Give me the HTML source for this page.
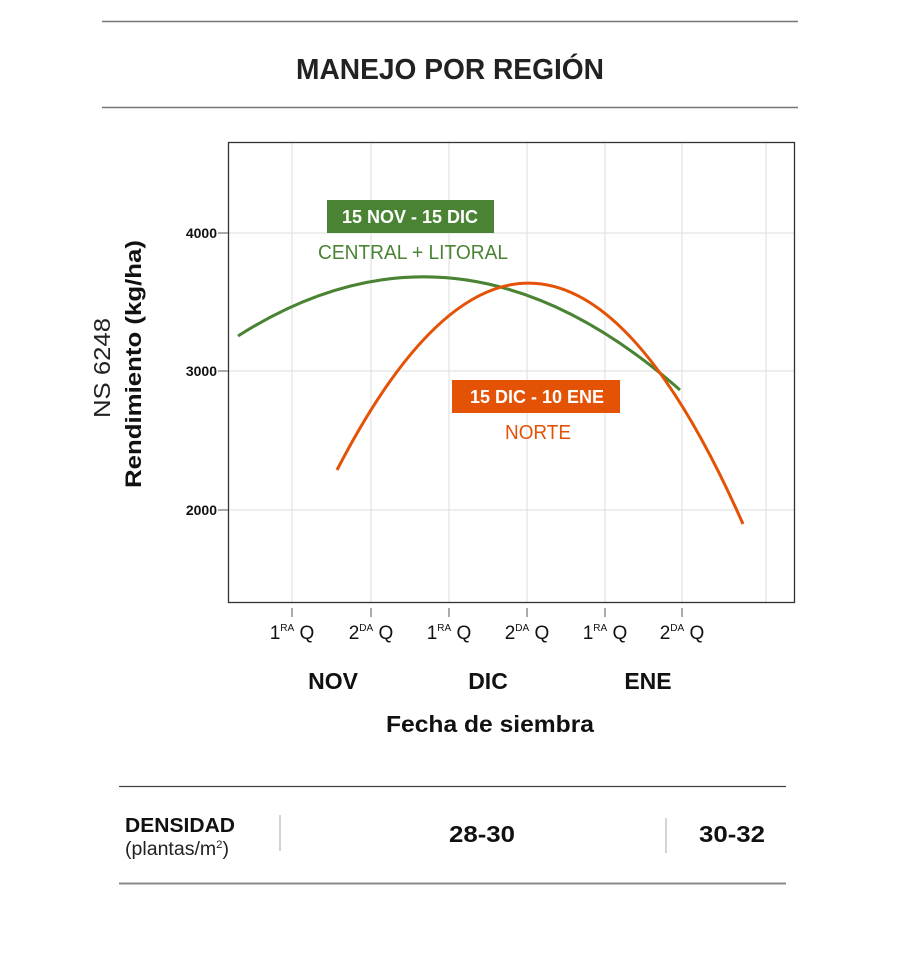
<!DOCTYPE html>
<html><head><meta charset="utf-8"><style>
html,body{margin:0;padding:0;background:#fff;}
svg{display:block;}
text{font-family:"Liberation Sans",sans-serif;}
</style></head><body>
<svg width="901" height="967" viewBox="0 0 901 967" xmlns="http://www.w3.org/2000/svg">
<line x1="102" y1="21.5" x2="798" y2="21.5" stroke="#777" stroke-width="1.5"/>
<line x1="102" y1="107.5" x2="798" y2="107.5" stroke="#777" stroke-width="1.5"/>
<text x="450" y="79" font-size="29" font-weight="bold" text-anchor="middle" fill="#222" textLength="308" lengthAdjust="spacingAndGlyphs">MANEJO POR REGIÓN</text>

<g stroke="#ddd" stroke-width="1">
<line x1="292" y1="142" x2="292" y2="602"/><line x1="371" y1="142" x2="371" y2="602"/>
<line x1="449" y1="142" x2="449" y2="602"/><line x1="527" y1="142" x2="527" y2="602"/>
<line x1="605" y1="142" x2="605" y2="602"/><line x1="682" y1="142" x2="682" y2="602"/>
<line x1="766" y1="142" x2="766" y2="602"/>
<line x1="228" y1="233" x2="795" y2="233"/><line x1="228" y1="371" x2="795" y2="371"/>
<line x1="228" y1="510" x2="795" y2="510"/>
</g>
<rect x="228.5" y="142.5" width="566" height="460" fill="none" stroke="#333" stroke-width="1.3"/>
<g stroke="#555" stroke-width="1">
<line x1="218" y1="233" x2="228" y2="233"/><line x1="218" y1="371" x2="228" y2="371"/><line x1="218" y1="510" x2="228" y2="510"/>
<line x1="292" y1="608" x2="292" y2="617"/><line x1="371" y1="608" x2="371" y2="617"/><line x1="449" y1="608" x2="449" y2="617"/>
<line x1="527" y1="608" x2="527" y2="617"/><line x1="605" y1="608" x2="605" y2="617"/><line x1="682" y1="608" x2="682" y2="617"/>
</g>
<g font-size="14" font-weight="bold" fill="#111" text-anchor="end">
<text x="217" y="238">4000</text><text x="217" y="376">3000</text><text x="217" y="515">2000</text>
</g>

<path d="M238 336 Q459 195 680 390" fill="none" stroke="#4a8333" stroke-width="3"/>
<path d="M337 470 Q543 71 743 524" fill="none" stroke="#e35205" stroke-width="3"/>

<rect x="327" y="200" width="167" height="33" fill="#4a8333"/>
<text x="410" y="223" font-size="18" font-weight="bold" fill="#fff" text-anchor="middle" textLength="136" lengthAdjust="spacingAndGlyphs">15 NOV - 15 DIC</text>
<text x="413" y="259" font-size="20" fill="#4a8333" text-anchor="middle" textLength="190" lengthAdjust="spacingAndGlyphs">CENTRAL + LITORAL</text>
<rect x="452" y="380" width="168" height="33" fill="#e35205"/>
<text x="537" y="403" font-size="18" font-weight="bold" fill="#fff" text-anchor="middle" textLength="134" lengthAdjust="spacingAndGlyphs">15 DIC - 10 ENE</text>
<text x="538" y="439" font-size="20" fill="#e35205" text-anchor="middle" textLength="66" lengthAdjust="spacingAndGlyphs">NORTE</text>

<text transform="translate(110,368) rotate(-90)" font-size="23" fill="#222" text-anchor="middle" textLength="100" lengthAdjust="spacingAndGlyphs">NS 6248</text>
<text transform="translate(141,364) rotate(-90)" font-size="22" font-weight="bold" fill="#111" text-anchor="middle" textLength="248" lengthAdjust="spacingAndGlyphs">Rendimiento (kg/ha)</text>

<g font-size="19" fill="#111" text-anchor="middle">
<text x="292" y="639">1<tspan font-size="10" dy="-8">RA</tspan><tspan dy="8"> Q</tspan></text>
<text x="371" y="639">2<tspan font-size="10" dy="-8">DA</tspan><tspan dy="8"> Q</tspan></text>
<text x="449" y="639">1<tspan font-size="10" dy="-8">RA</tspan><tspan dy="8"> Q</tspan></text>
<text x="527" y="639">2<tspan font-size="10" dy="-8">DA</tspan><tspan dy="8"> Q</tspan></text>
<text x="605" y="639">1<tspan font-size="10" dy="-8">RA</tspan><tspan dy="8"> Q</tspan></text>
<text x="682" y="639">2<tspan font-size="10" dy="-8">DA</tspan><tspan dy="8"> Q</tspan></text>
</g>
<g font-size="23" font-weight="bold" fill="#111" text-anchor="middle">
<text x="333" y="689">NOV</text><text x="488" y="689">DIC</text><text x="648" y="689">ENE</text>
<text x="490" y="732" textLength="208" lengthAdjust="spacingAndGlyphs">Fecha de siembra</text>
</g>

<line x1="119" y1="786.5" x2="786" y2="786.5" stroke="#444" stroke-width="1.2"/>
<line x1="119" y1="883.5" x2="786" y2="883.5" stroke="#888" stroke-width="2"/>
<text x="125" y="832" font-size="20" font-weight="bold" fill="#111" textLength="110" lengthAdjust="spacingAndGlyphs">DENSIDAD</text>
<text x="125" y="855" font-size="19" fill="#222" textLength="104" lengthAdjust="spacingAndGlyphs">(plantas/m<tspan font-size="11" dy="-7">2</tspan><tspan dy="7">)</tspan></text>
<line x1="280" y1="815" x2="280" y2="851" stroke="#aaa"/>
<line x1="666" y1="818" x2="666" y2="853" stroke="#aaa"/>
<text x="482" y="842" font-size="23" font-weight="bold" fill="#111" text-anchor="middle" textLength="66" lengthAdjust="spacingAndGlyphs">28-30</text>
<text x="732" y="842" font-size="23" font-weight="bold" fill="#111" text-anchor="middle" textLength="66" lengthAdjust="spacingAndGlyphs">30-32</text>
</svg>
</body></html>
